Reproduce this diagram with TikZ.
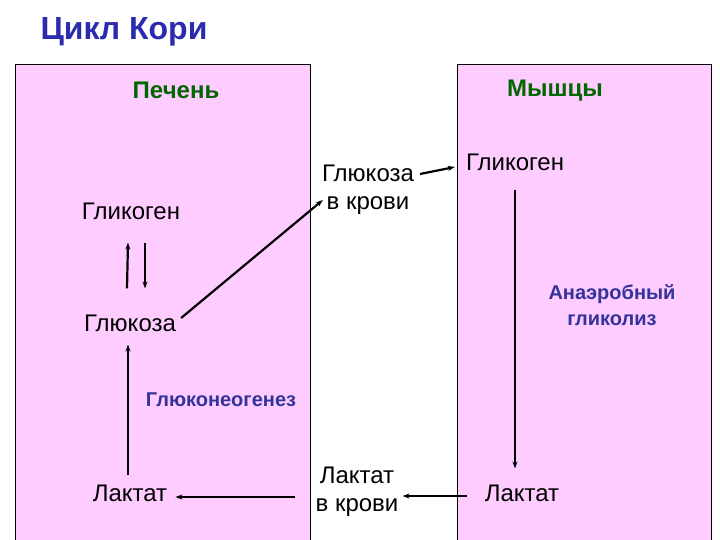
\documentclass[tikz,border=0pt]{standalone}
\usepackage{fontspec}
\setmainfont{Liberation Sans}
\usetikzlibrary{arrows.meta, positioning}
\definecolor{organfill}{RGB}{255,204,255}
\definecolor{titleblue}{RGB}{43,43,176}
\definecolor{organgreen}{RGB}{0,102,0}
\definecolor{procblue}{RGB}{51,51,153}

\begin{document}
\begin{tikzpicture}[
    x=1pt, y=-1pt,
    organ/.style={fill=organfill, draw=black, line width=1pt},
    metab/.style={font=\fontsize{24}{28}\selectfont, align=center, inner sep=1pt},
    organname/.style={font=\fontsize{24}{28}\selectfont\bfseries, text=organgreen},
    process/.style={font=\fontsize{20}{26}\selectfont\bfseries, text=procblue, align=center},
    flow/.style={-{Stealth[length=7pt, width=5pt]}, line width=2.2pt, black}
]
\useasboundingbox (0,0) rectangle (720,540);

% Titel
\node[font=\fontsize{32}{36}\selectfont\bfseries, text=titleblue, anchor=west] (title) at (37,32) {Цикл Кори};

% Organe
\draw[organ] (15,65) rectangle (310,548);
\draw[organ] (457,65) rectangle (711,548);
\node[organname] (liver) at (176,90) {Печень};
\node[organname] (muscle) at (555,91) {Мышцы};

% Leber
\node[metab] (glycogenL) at (131,211) {Гликоген};
\node[metab] (glucoseL) at (130,323) {Глюкоза};
\node[metab] (lactateL) at (130,493) {Лактат};
\node[process] (gng) at (221,400) {Глюконеогенез};

% Blut
\node[metab] (glucoseB) at (368,190) {Глюкоза\\в крови};
\node[metab] (lactateB) at (357,492) {Лактат\\в крови};

% Muskel
\node[metab] (glycogenM) at (515,162) {Гликоген};
\node[metab] (lactateM) at (522,493) {Лактат};
\node[process] (glycolysis) at (612,305) {Анаэробный\\гликолиз};

% Pfeile
\draw[flow] ([xshift=-3pt,yshift=25pt]glucoseL.north) -- ([xshift=-3pt,yshift=-22pt]glycogenL.south);
\draw[flow] ([xshift=14pt,yshift=-22pt]glycogenL.south) -- ([xshift=15pt,yshift=25pt]glucoseL.north);
\draw[flow] ([xshift=4pt,yshift=5pt]glucoseL.east) -- ([xshift=2pt,yshift=-10pt]glucoseB.west);
\draw[flow] ([xshift=5pt,yshift=16pt]glucoseB.east) -- ([xshift=-10pt,yshift=-5pt]glycogenM.west);
\draw[flow] ([yshift=-18pt]glycogenM.south) -- ([yshift=15pt]glycogenM.south |- lactateM.north);
\draw[flow] ([xshift=-17pt,yshift=-3pt]lactateM.west) -- ([xshift=3pt,yshift=-4pt]lactateB.east);
\draw[flow] ([xshift=-19pt,yshift=-5pt]lactateB.west) -- ([xshift=7pt,yshift=-4pt]lactateL.east);
\draw[flow] ([xshift=-2pt,yshift=8pt]lactateL.north) -- ([xshift=-2pt,yshift=-12pt]glucoseL.south);
\end{tikzpicture}
\end{document}
